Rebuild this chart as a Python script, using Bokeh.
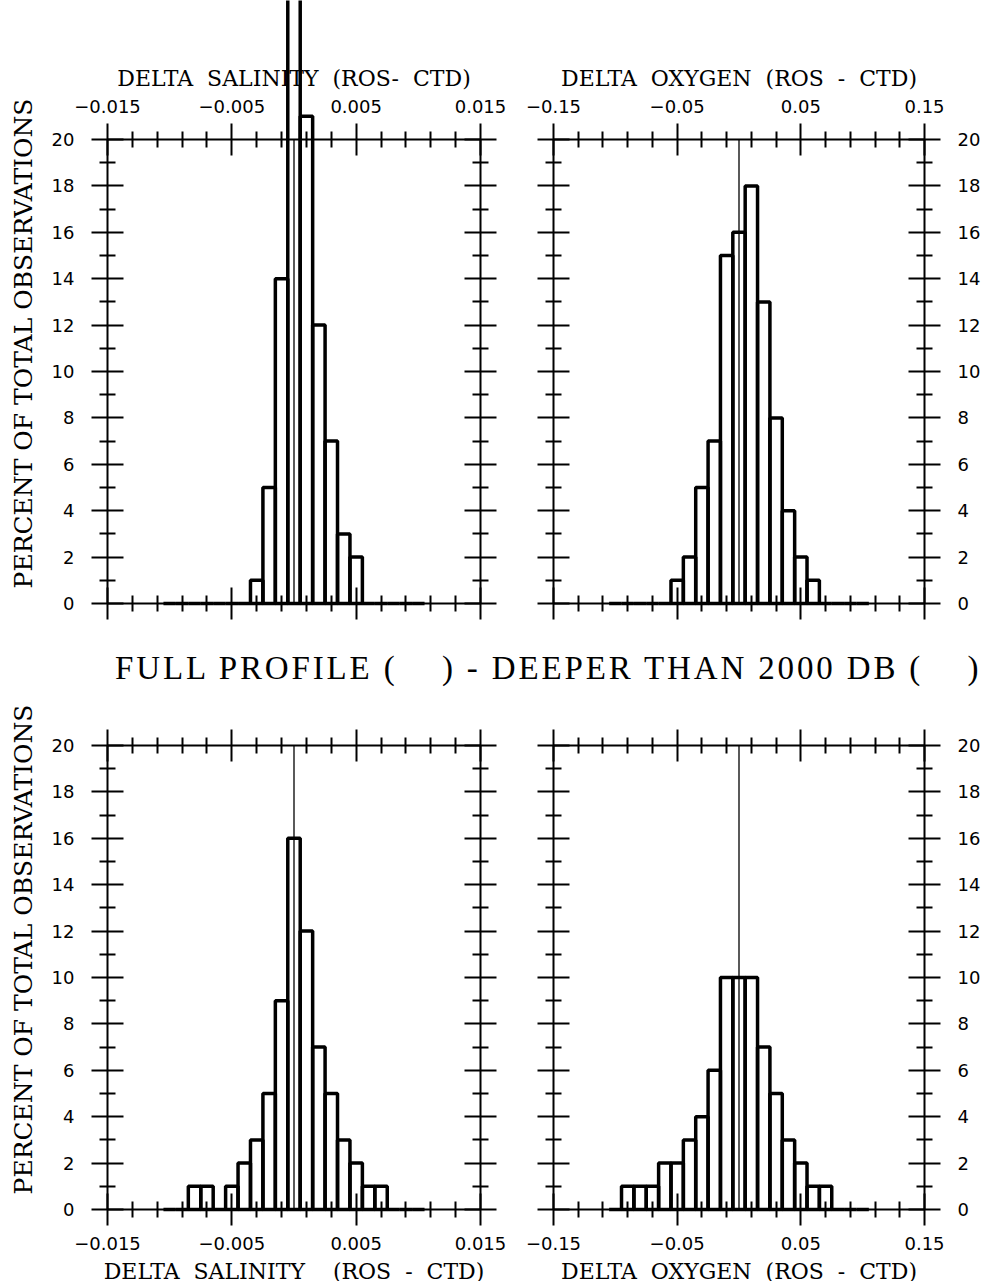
from bokeh.plotting import figure
from bokeh.models import LinearAxis, FixedTicker, Range1d, Div, CustomJSTickFormatter
from bokeh.layouts import column, row
from bokeh.embed import file_html
from bokeh.resources import INLINE

# ---------------- data (percent of total observations per bin) ----------------
sal_bins = [-0.010, -0.009, -0.008, -0.007, -0.006, -0.005, -0.004, -0.003, -0.002, -0.001, 0.000,
            0.001, 0.002, 0.003, 0.004, 0.005, 0.006, 0.007, 0.008, 0.009, 0.010]
oxy_bins = [-0.10, -0.09, -0.08, -0.07, -0.06, -0.05, -0.04, -0.03, -0.02, -0.01, 0.00,
            0.01, 0.02, 0.03, 0.04, 0.05, 0.06, 0.07, 0.08, 0.09, 0.10]
sal_bin_width = 0.001
oxy_bin_width = 0.01

sal_full_pct = [0, 0, 0, 0, 0, 0, 0, 1, 5, 14, 35, 21, 12, 7, 3, 2, 0, 0, 0, 0, 0]
oxy_full_pct = [0, 0, 0, 0, 0, 1, 2, 5, 7, 15, 16, 18, 13, 8, 4, 2, 1, 0, 0, 0, 0]
sal_deep_pct = [0, 0, 1, 1, 0, 1, 2, 3, 5, 9, 16, 12, 7, 5, 3, 2, 1, 1, 0, 0, 0]
oxy_deep_pct = [0, 1, 1, 1, 2, 2, 3, 4, 6, 10, 10, 10, 7, 5, 3, 2, 1, 1, 0, 0, 0]

zero_line_x = 0.0

sal_ticks = [-0.015, -0.005, 0.005, 0.015]
sal_tick_labels = ["\u22120.015", "\u22120.005", "0.005", "0.015"]
sal_minor = [-0.013, -0.011, -0.009, -0.007, -0.003, -0.001, 0.001, 0.003, 0.007, 0.009, 0.011, 0.013]
oxy_ticks = [-0.15, -0.05, 0.05, 0.15]
oxy_tick_labels = ["\u22120.15", "\u22120.05", "0.05", "0.15"]
oxy_minor = [-0.13, -0.11, -0.09, -0.07, -0.03, -0.01, 0.01, 0.03, 0.07, 0.09, 0.11, 0.13]
pct_ticks = [0, 2, 4, 6, 8, 10, 12, 14, 16, 18, 20]
pct_tick_labels = ["0", "2", "4", "6", "8", "10", "12", "14", "16", "18", "20"]
pct_minor = [1, 3, 5, 7, 9, 11, 13, 15, 17, 19]

NB = "\u00a0"
sal_title_top = f"DELTA{NB} SALINITY{NB} (ROS-{NB} CTD)"
oxy_title_top = f"DELTA{NB} OXYGEN{NB} (ROS{NB} -{NB} CTD)"
sal_title_bot = f"DELTA{NB} SALINITY{NB}{NB}{NB} (ROS{NB} -{NB} CTD)"
oxy_title_bot = f"DELTA{NB} OXYGEN{NB} (ROS{NB} -{NB} CTD)"
y_title = "PERCENT OF TOTAL OBSERVATIONS"
mid_title = "FULL PROFILE (&nbsp;&nbsp;&nbsp;&nbsp;) - DEEPER THAN 2000 DB (&nbsp;&nbsp;&nbsp;&nbsp;)"

# ---------------- layout (pixels) ----------------
PAGE_W = 987
LEFT_W = 516
RIGHT_W = PAGE_W - LEFT_W
TOP_H = 635
MID_H = 50
BOT_TOP = TOP_H + MID_H
BOT_H = 1280 - BOT_TOP
PCT_MAX = 20
Y_TITLE_CENTER = 11.2   # in percent units, where the rotated title is centred


def fmt(ticks, labels):
    return CustomJSTickFormatter(args=dict(t=ticks, l=labels), code="""
        for (let i = 0; i < t.length; i++) { if (Math.abs(t[i] - tick) < 1e-9) return l[i]; }
        return "";
    """)


def style_axis(ax):
    ax.axis_line_width = 2
    ax.axis_line_color = "black"
    ax.major_tick_line_width = 2
    ax.minor_tick_line_width = 2
    ax.major_tick_in = 16
    ax.major_tick_out = 16
    ax.minor_tick_in = 8
    ax.minor_tick_out = 8
    ax.major_label_text_font = "DejaVu Sans"
    ax.major_label_text_font_size = "18px"
    ax.major_label_text_color = "black"
    ax.axis_label_text_font = "DejaVu Serif"
    ax.axis_label_text_font_style = "normal"
    ax.axis_label_text_color = "black"


def make_panel(width, height, px_lo, px_hi, py_top, py_zero, xticks, xlabels, xminor,
               bins, bw, vals, x_side, y_side, x_title, show_y_title):
    x_lo, x_hi = xticks[0], xticks[-1]
    kx = (x_hi - x_lo) / (px_hi - px_lo)
    ky = PCT_MAX / (py_zero - py_top)
    xr = Range1d(x_lo - px_lo * kx, x_lo + (width - px_lo) * kx)
    yr = Range1d(-(height - py_zero) * ky, PCT_MAX + py_top * ky)
    p = figure(width=width, height=height, x_range=xr, y_range=yr,
               x_axis_type=None, y_axis_type=None, toolbar_location=None,
               output_backend="svg", min_border=0, outline_line_color=None)
    p.title.visible = False
    p.background_fill_color = "white"
    p.border_fill_color = "white"

    left = [c - bw / 2 for c in bins]
    right = [c + bw / 2 for c in bins]
    p.quad(left=left, right=right, bottom=0, top=vals, fill_color=None,
           line_color="black", line_width=3.5)
    p.segment(x0=[zero_line_x], y0=[0], x1=[zero_line_x], y1=[PCT_MAX],
              line_color="black", line_width=1.3)

    for side, loc in (("above", PCT_MAX), ("below", 0)):
        ax = LinearAxis(ticker=FixedTicker(ticks=xticks, minor_ticks=xminor),
                        formatter=fmt(xticks, xlabels), fixed_location=loc,
                        bounds=(x_lo, x_hi))
        style_axis(ax)
        if side == x_side:
            ax.axis_label = x_title
            ax.axis_label_text_font_size = "22px"
            ax.major_label_standoff = 11
            ax.axis_label_standoff = 6
        else:
            ax.major_label_text_color = None
        p.add_layout(ax, side)

    for side, loc in (("left", x_lo), ("right", x_hi)):
        ax = LinearAxis(ticker=FixedTicker(ticks=pct_ticks, minor_ticks=pct_minor),
                        formatter=fmt(pct_ticks, pct_tick_labels), fixed_location=loc,
                        bounds=(0, PCT_MAX))
        style_axis(ax)
        if side == y_side:
            ax.major_label_standoff = 17
        else:
            ax.major_label_text_color = None
        p.add_layout(ax, side)

    if show_y_title:
        tax = LinearAxis(ticker=FixedTicker(ticks=[]), fixed_location=x_lo,
                         bounds=(Y_TITLE_CENTER - 5, Y_TITLE_CENTER + 5))
        tax.axis_line_color = None
        tax.major_tick_in = 0
        tax.major_tick_out = 0
        tax.minor_tick_in = 0
        tax.minor_tick_out = 0
        tax.major_label_standoff = 0
        tax.axis_label = y_title
        tax.axis_label_text_font = "DejaVu Serif"
        tax.axis_label_text_font_style = "normal"
        tax.axis_label_text_font_size = "25px"
        tax.axis_label_text_color = "black"
        tax.axis_label_standoff = 70
        p.add_layout(tax, "left")
    return p


# top row: full profile
p1 = make_panel(LEFT_W, TOP_H, 107, 480, 139, 603, sal_ticks, sal_tick_labels, sal_minor,
                sal_bins, sal_bin_width, sal_full_pct, "above", "left", sal_title_top, True)
p2 = make_panel(RIGHT_W, TOP_H, 553 - LEFT_W, 924 - LEFT_W, 139, 603, oxy_ticks, oxy_tick_labels, oxy_minor,
                oxy_bins, oxy_bin_width, oxy_full_pct, "above", "right", oxy_title_top, False)
# bottom row: deeper than 2000 db
p3 = make_panel(LEFT_W, BOT_H, 107, 480, 735 - BOT_TOP, 1199 - BOT_TOP, sal_ticks, sal_tick_labels, sal_minor,
                sal_bins, sal_bin_width, sal_deep_pct, "below", "left", sal_title_bot, True)
p4 = make_panel(RIGHT_W, BOT_H, 553 - LEFT_W, 924 - LEFT_W, 735 - BOT_TOP, 1199 - BOT_TOP, oxy_ticks, oxy_tick_labels, oxy_minor,
                oxy_bins, oxy_bin_width, oxy_deep_pct, "below", "right", oxy_title_bot, False)

mid = Div(text=('<div style="margin-left:110px; margin-top:8px; font-family:\'Liberation Serif\'; '
                'font-size:33px; line-height:40px; letter-spacing:2.85px; white-space:nowrap; color:black;">'
                + mid_title + '</div>'),
          width=PAGE_W, height=MID_H)

layout = column(row(p1, p2), mid, row(p3, p4))

open("out.html", "w").write(file_html(layout, INLINE))
